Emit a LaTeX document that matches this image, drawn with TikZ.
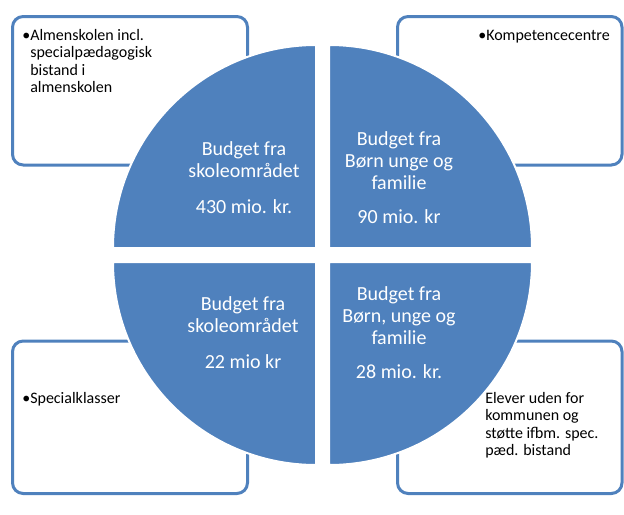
\documentclass[tikz,border=0pt]{standalone}
\usepackage{fontspec}
\setmainfont{Carlito}

\begin{document}
\begin{tikzpicture}[x=0.75pt,y=0.75pt,yscale=-1,xscale=1,
    frame/.style={draw={rgb, 255:red, 79; green, 129; blue, 189}, line width=2.25pt, rounded corners=8pt, fill=white},
    piece/.style={fill={rgb, 255:red, 79; green, 129; blue, 189}, draw=white, line width=1.5pt},
    pietext/.style={anchor=center, inner sep=0.75pt, align=center, text=white, font=\fontsize{15}{16.5}\selectfont},
    boxtext/.style={anchor=base west, inner sep=0pt, align=left, font=\fontsize{12}{13}\selectfont}]
\useasboundingbox (0,0) rectangle (624,514);

%Rounded Rect [top left]
\draw [frame] (12.5,16.5) rectangle (247.5,165);
%Rounded Rect [top right]
\draw [frame] (397.5,16.5) rectangle (622,165);
%Rounded Rect [bottom left]
\draw [frame] (12.5,341) rectangle (247.5,493.5);
%Rounded Rect [bottom right]
\draw [frame] (397.5,341) rectangle (622,493.5);

%Shape: Pie [top left]
\draw [piece] (316,248) -- (113,248) arc [start angle=180, end angle=270, radius=203] -- cycle;
%Shape: Pie [top right]
\draw [piece] (329,248) -- (329,45) arc [start angle=270, end angle=360, radius=203] -- cycle;
%Shape: Pie [bottom left]
\draw [piece] (316,262) -- (316,465) arc [start angle=90, end angle=180, radius=203] -- cycle;
%Shape: Pie [bottom right]
\draw [piece] (329,262) -- (532,262) arc [start angle=0, end angle=90, radius=203] -- cycle;

% Text Node
\node (skoleStor) at (244,177.5) [pietext] {Budget fra\\skoleområdet\\[10pt]430 mio. kr.};
% Text Node
\node (bufStor) at (399,177.5) [pietext] {Budget fra\\Børn unge og\\familie\\[9.5pt]90 mio. kr};
% Text Node
\node (skoleLille) at (243,332.5) [pietext] {Budget fra\\skoleområdet\\[10pt]22 mio kr};
% Text Node
\node (bufLille) at (399,332.5) [pietext] {Budget fra\\Børn, unge og\\familie\\[9.5pt]28 mio. kr.};

% Text Node (base = last line)
\node (almen) at (30,92.5) [boxtext] {\llap{•}Almenskolen incl.\\specialpædagogisk\\bistand i\\almenskolen};
% Text Node
\node (kompetence) at (486,40.5) [boxtext] {\llap{•}Kompetencecentre};
% Text Node
\node (specialkl) at (30,403.3) [boxtext] {\llap{•}Specialklasser};
% Text Node (base = last line)
\node (elever) at (485,455.5) [boxtext] {Elever uden for\\kommunen og\\støtte ifbm. spec.\\pæd. bistand};
\end{tikzpicture}
\end{document}
